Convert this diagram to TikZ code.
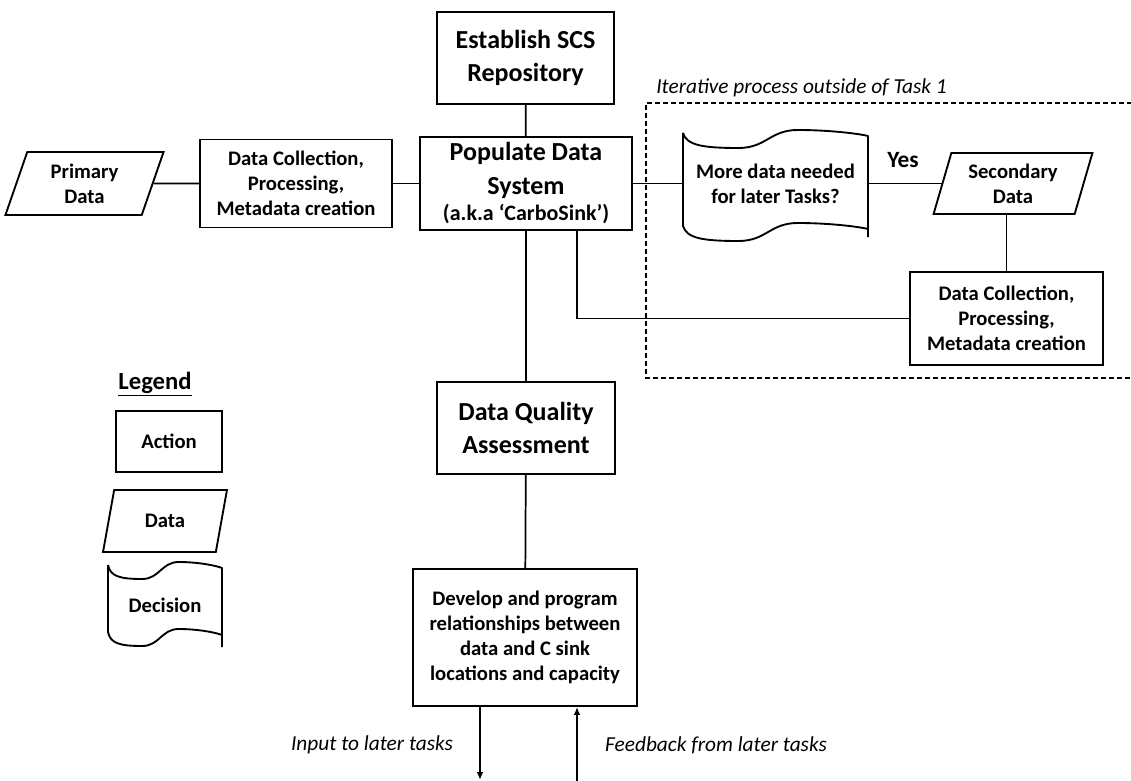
\documentclass[tikz,border=0pt]{standalone}
\usepackage{fontspec}
\setmainfont{Carlito}
\usetikzlibrary{arrows.meta,shapes.geometric,calc}
% wavy edge from (l,y) to (r,y+3) of a decision shape: #1=l #2=y #3=r #4=dip
\newcommand\waveseg[4]{%
  (#1,#2) .. controls ({#1+0.02*(#3-#1)},{#2+0.8*#4}) and ({#1+0.1*(#3-#1)},{#2+#4}) ..
  ({#1+0.3*(#3-#1)},{#2+#4}) .. controls ({#1+0.45*(#3-#1)},{#2+#4}) and ({#1+0.47*(#3-#1)},{#2-3}) ..
  ({#1+0.62*(#3-#1)},{#2-3}) .. controls ({#1+0.8*(#3-#1)},{#2-3}) and ({#3-0.04*(#3-#1)},{#2+1}) .. (#3,{#2+3})}
% #1=l #2=t #3=r #4=b #5=dip #6=overshoot of right side
\newcommand\tapepath[6]{%
  \draw[shapeline] \waveseg{#1}{#2}{#3}{#5} -- (#3,{#4+3+#6});
  \draw[shapeline] (#1,#2) -- \waveseg{#1}{#4}{#3}{#5};
}
\begin{document}
\begin{tikzpicture}[x=0.75pt,y=-0.75pt,
  wh/.style 2 args={minimum width={#1*0.75pt},minimum height={#2*0.75pt}},
  shapeline/.style={line width=1.4pt,line join=round},
  bigf/.style={font=\bfseries\fontsize{19.5}{24.5}\selectfont},
  medf/.style={font=\bfseries\fontsize{15.5}{18.75}\selectfont},
  actionbox/.style={draw,line width=1.4pt,align=center,inner sep=0pt},
  databox/.style={draw,line width=1.4pt,align=center,inner sep=0pt,trapezium,
    trapezium left angle=72,trapezium right angle=108,trapezium stretches=true},
  plain/.style={align=center,inner sep=0pt},
  conn/.style={line width=1.3pt},
  lab/.style={inner sep=0pt,font=\itshape\fontsize{16}{19}\selectfont},
  tip/.style={-{Latex[length=6pt,width=5pt]}}
]
\useasboundingbox (0,0) rectangle (1131,781);

% main column
\node[actionbox,bigf,wh={177}{92}] (est) at (525.5,58) {Establish SCS\\Repository};
\node[actionbox,wh={212}{93},font=\bfseries\fontsize{19.5}{25.5}\selectfont] (pop) at (526,183.5)
  {Populate Data\\System\\[-6pt]{\fontsize{16.5}{19.5}\selectfont (a.k.a ‘CarboSink’)}};
\node[actionbox,medf,wh={192}{88}] (dc1) at (296,183.5) {Data Collection,\\Processing,\\Metadata creation};
\node[databox,medf,wh={159}{63}] (prim) at (84.5,183.5) {Primary\\Data};
\node[actionbox,bigf,wh={178}{92}] (dqa) at (526,428) {Data Quality\\Assessment};
\node[actionbox,medf,wh={224}{137}] (dev) at (525,637.5)
  {Develop and program\\relationships between\\data and C sink\\locations and capacity};

% iterative part
\tapepath{683}{133}{868}{226}{15}{8}
\node[plain,medf,wh={185}{93}] (dec) at (775.5,183.5) {More data needed\\for later Tasks?};
\node[databox,medf,wh={160}{61}] (sec) at (1013,183.5) {Secondary\\Data};
\node[actionbox,medf,wh={193}{93}] (dc2) at (1006.5,318.5) {Data Collection,\\Processing,\\Metadata creation};
\node[inner sep=0pt,font=\bfseries\fontsize{17.5}{20}\selectfont] (yes) at (903,160) {Yes};
\draw[line width=1.5pt,dash pattern=on 3.75pt off 2.25pt] (1140,103) -- (646,103) -- (646,378) -- (1140,378);
\node[lab,anchor=west] (iter) at (656,88) {Iterative process outside of Task 1};

% connectors
\draw[conn] (est) -- (pop);
\draw[conn] (prim.east) -- (dc1.west);
\draw[conn] (dc1.east) -- (pop.west);
\draw[conn] (pop.east) -- (dec.west);
\draw[conn] (dec.east) -- (sec.west);
\draw[conn] (dc2.north) -- (dc2.north |- sec.south);
\draw[conn] (dc2.west) -| ($(pop.south)+(51,0)$);
\draw[conn] (pop) -- (dqa);
\draw[conn] (dqa) -- (dev);
\coordinate (outA) at (480,780);
\coordinate (inB) at (577,782);
\draw[conn,tip] (dev.south -| outA) -- (outA);
\draw[conn,tip] (inB) -- (inB |- dev.south);
\node[lab] (lin) at (372,745) {Input to later tasks};
\node[lab] (lfb) at (716,745) {Feedback from later tasks};

% legend
\node[inner sep=0pt,font=\bfseries\fontsize{18.5}{22}\selectfont] (leg) at (155,384) {\underline{Legend}};
\node[actionbox,medf,wh={106}{61}] (lact) at (169,441.5) {Action};
\node[databox,medf,wh={124}{62}] (ldat) at (165,521) {Data};
\tapepath{108}{565}{222}{632}{14}{12}
\node[plain,medf] (ldec) at (165,605) {Decision};
\end{tikzpicture}
\end{document}
